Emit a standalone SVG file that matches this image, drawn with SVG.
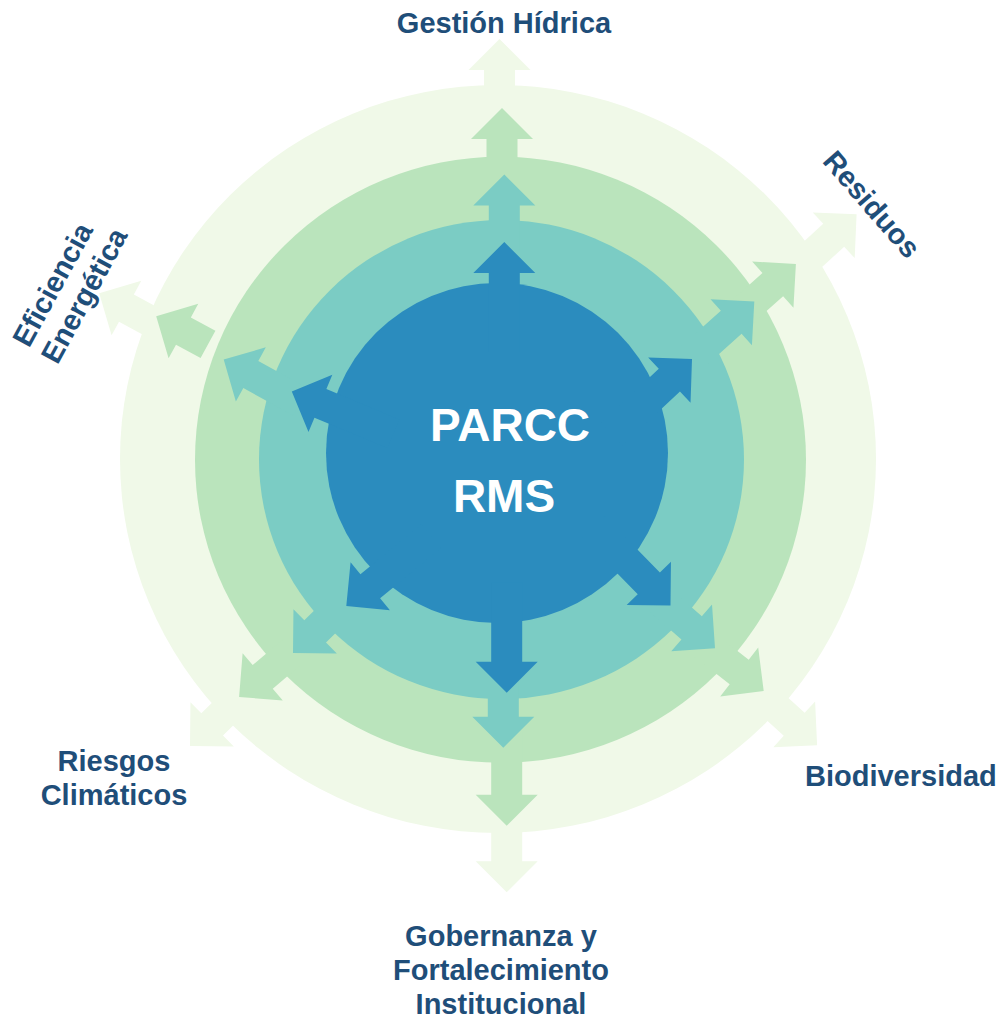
<svg xmlns="http://www.w3.org/2000/svg" width="1002" height="1018" viewBox="0 0 1002 1018">
<style>
.c1{fill:#f0f9e8}.c2{fill:#bae4bc}.c3{fill:#7bccc4}.c4{fill:#2b8cbe}
.lbl{font-family:"Liberation Sans",Arial,sans-serif;font-weight:bold;font-size:29px;fill:#1f4e79}
.ctr{font-family:"Liberation Sans",Arial,sans-serif;font-weight:bold;font-size:46px;fill:#ffffff;text-anchor:middle}
.mid{text-anchor:middle}
</style>
<rect width="1002" height="1018" fill="#ffffff"/>
<g id="ring-outer"><ellipse class="c1" cx="498" cy="459" rx="378" ry="374"/></g>
<g id="ring-second"><ellipse class="c2" cx="500.5" cy="459.7" rx="305.5" ry="303"/></g>
<g id="ring-third"><ellipse class="c3" cx="501.5" cy="459.5" rx="242.5" ry="239.5"/></g>
<g id="node-center">
<ellipse class="c4" cx="497" cy="453" rx="171" ry="170"/>
<text class="ctr" x="510" y="441">PARCC</text>
<text class="ctr" x="504" y="512">RMS</text>
</g>
<g id="connectors">
<!-- outer layer arrows -->
<path class="c1" d="M0,0 L-31,-31 V-15.5 H-81 V15.5 H-31 V31 Z" transform="translate(499.5,39) rotate(-90)"/>
<path class="c1" d="M0,0 L-31,-31 V-15.5 H-94 V15.5 H-31 V31 Z" transform="translate(856.6,214.3) rotate(-42.5)"/>
<path class="c1" d="M0,0 L-31,-31 V-15.5 H-88 V15.5 H-31 V31 Z" transform="translate(817.1,745.2) rotate(42.4)"/>
<path class="c1" d="M0,0 L-31,-31 V-15.5 H-93 V15.5 H-31 V31 Z" transform="translate(506.7,892.3) rotate(90)"/>
<path class="c1" d="M0,0 L-31,-31 V-15.5 H-82 V15.5 H-31 V31 Z" transform="translate(190,746) rotate(135.6)"/>
<path class="c1" d="M0,0 L-31,-31 V-15.5 H-94 V15.5 H-31 V31 Z" transform="translate(99.2,293.2) rotate(-151.4)"/>
<!-- second layer arrows -->
<path class="c2" d="M0,0 L-31,-31 V-15.5 H-79 V15.5 H-31 V31 Z" transform="translate(502,108) rotate(-90)"/>
<path class="c2" d="M0,0 L-31,-31 V-15.5 H-82 V15.5 H-31 V31 Z" transform="translate(795.9,264) rotate(-41.8)"/>
<path class="c2" d="M0,0 L-31,-31 V-15.5 H-78 V15.5 H-31 V31 Z" transform="translate(763.7,690.9) rotate(37.8)"/>
<path class="c2" d="M0,0 L-31,-31 V-15.5 H-94 V15.5 H-31 V31 Z" transform="translate(506.7,825.7) rotate(90)"/>
<path class="c2" d="M0,0 L-31,-31 V-15.5 H-81 V15.5 H-31 V31 Z" transform="translate(239.1,697) rotate(139.6)"/>
<path class="c2" d="M0,0 L-31,-31 V-15.5 H-59 V15.5 H-31 V31 Z" transform="translate(156.2,316.2) rotate(-151.4)"/>
<!-- third layer arrows -->
<path class="c3" d="M0,0 L-31,-31 V-15.5 H-76 V15.5 H-31 V31 Z" transform="translate(504.3,174.5) rotate(-90)"/>
<path class="c3" d="M0,0 L-31,-31 V-15.5 H-96 V15.5 H-31 V31 Z" transform="translate(754.3,301.5) rotate(-41.9)"/>
<path class="c3" d="M0,0 L-31,-31 V-15.5 H-83 V15.5 H-31 V31 Z" transform="translate(715,648.2) rotate(41.1)"/>
<path class="c3" d="M0,0 L-31,-31 V-15.5 H-86 V15.5 H-31 V31 Z" transform="translate(503.3,747.7) rotate(90)"/>
<path class="c3" d="M0,0 L-31,-31 V-15.5 H-80 V15.5 H-31 V31 Z" transform="translate(293,653) rotate(135.6)"/>
<path class="c3" d="M0,0 L-31,-31 V-15.5 H-88 V15.5 H-31 V31 Z" transform="translate(223.7,359.5) rotate(-151.1)"/>
<!-- inner layer arrows -->
<path class="c4" d="M0,0 L-31,-31 V-15.5 H-110 V15.5 H-31 V31 Z" transform="translate(504.3,242) rotate(-90)"/>
<path class="c4" d="M0,0 L-31,-31 V-15.5 H-110 V15.5 H-31 V31 Z" transform="translate(692,359) rotate(-43.1)"/>
<path class="c4" d="M0,0 L-31,-31 V-15.5 H-110 V15.5 H-31 V31 Z" transform="translate(670.5,605.5) rotate(45.6)"/>
<path class="c4" d="M0,0 L-31,-31 V-15.5 H-110 V15.5 H-31 V31 Z" transform="translate(506.7,692.7) rotate(90)"/>
<path class="c4" d="M0,0 L-31,-31 V-15.5 H-110 V15.5 H-31 V31 Z" transform="translate(346.3,606) rotate(140.6)"/>
<path class="c4" d="M0,0 L-31,-31 V-15.5 H-110 V15.5 H-31 V31 Z" transform="translate(291.8,391.5) rotate(-157.4)"/>
</g>
<g id="node-gestion-hidrica"><text class="lbl mid" x="504" y="33">Gestión Hídrica</text></g>
<g id="node-residuos"><text class="lbl mid" transform="translate(871,205) rotate(49)" y="9">Residuos</text></g>
<g id="node-biodiversidad"><text class="lbl" x="805" y="786">Biodiversidad</text></g>
<g id="node-gobernanza">
<text class="lbl mid" x="501" y="946">Gobernanza y</text>
<text class="lbl mid" x="501" y="980">Fortalecimiento</text>
<text class="lbl mid" x="501" y="1013.5">Institucional</text>
</g>
<g id="node-riesgos">
<text class="lbl mid" x="114" y="771">Riesgos</text>
<text class="lbl mid" x="114" y="805">Climáticos</text>
</g>
<g id="node-eficiencia">
<text class="lbl mid" transform="translate(53.5,285) rotate(-61.5)" y="9">Eficiencia</text>
<text class="lbl mid" transform="translate(85,296) rotate(-61.5)" y="9">Energética</text>
</g>
</svg>
